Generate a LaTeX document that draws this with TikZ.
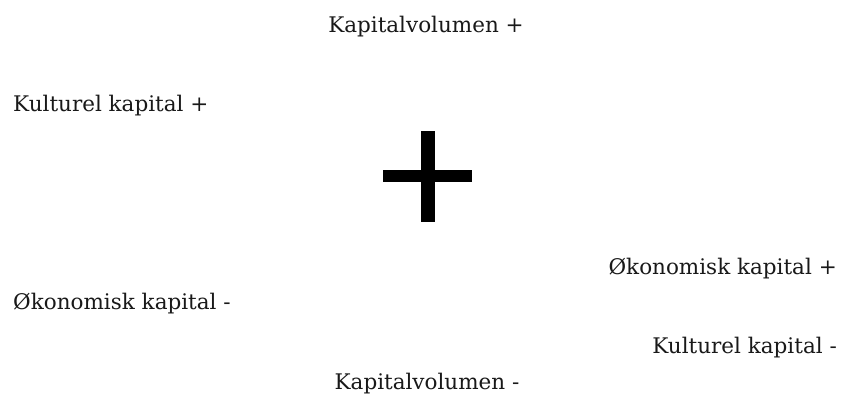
\documentclass[tikz,border=0pt]{standalone}
\usepackage{fontspec}
\setmainfont{DejaVu Serif}
\begin{document}
\begin{tikzpicture}[x=1pt,y=-1pt,
  lbl/.style={inner sep=0pt, font=\fontsize{21.5}{25}\selectfont, text=black!90}]
\useasboundingbox[fill=white] (0,0) rectangle (845,396);
\node[lbl, anchor=base] (kvp) at (426,33) {Kapitalvolumen +};
\node[lbl, anchor=base west] (kkp) at (13,111) {Kulturel kapital +};
\node[lbl, anchor=base east] (okp) at (837,274) {Økonomisk kapital +};
\node[lbl, anchor=base west] (okm) at (13,309) {Økonomisk kapital -};
\node[lbl, anchor=base east] (kkm) at (837,353) {Kulturel kapital -};
\node[lbl, anchor=base] (kvm) at (427,389) {Kapitalvolumen -};
\fill[black] (383,170) rectangle (472,182);
\fill[black] (421,131) rectangle (435,222);
\end{tikzpicture}
\end{document}
